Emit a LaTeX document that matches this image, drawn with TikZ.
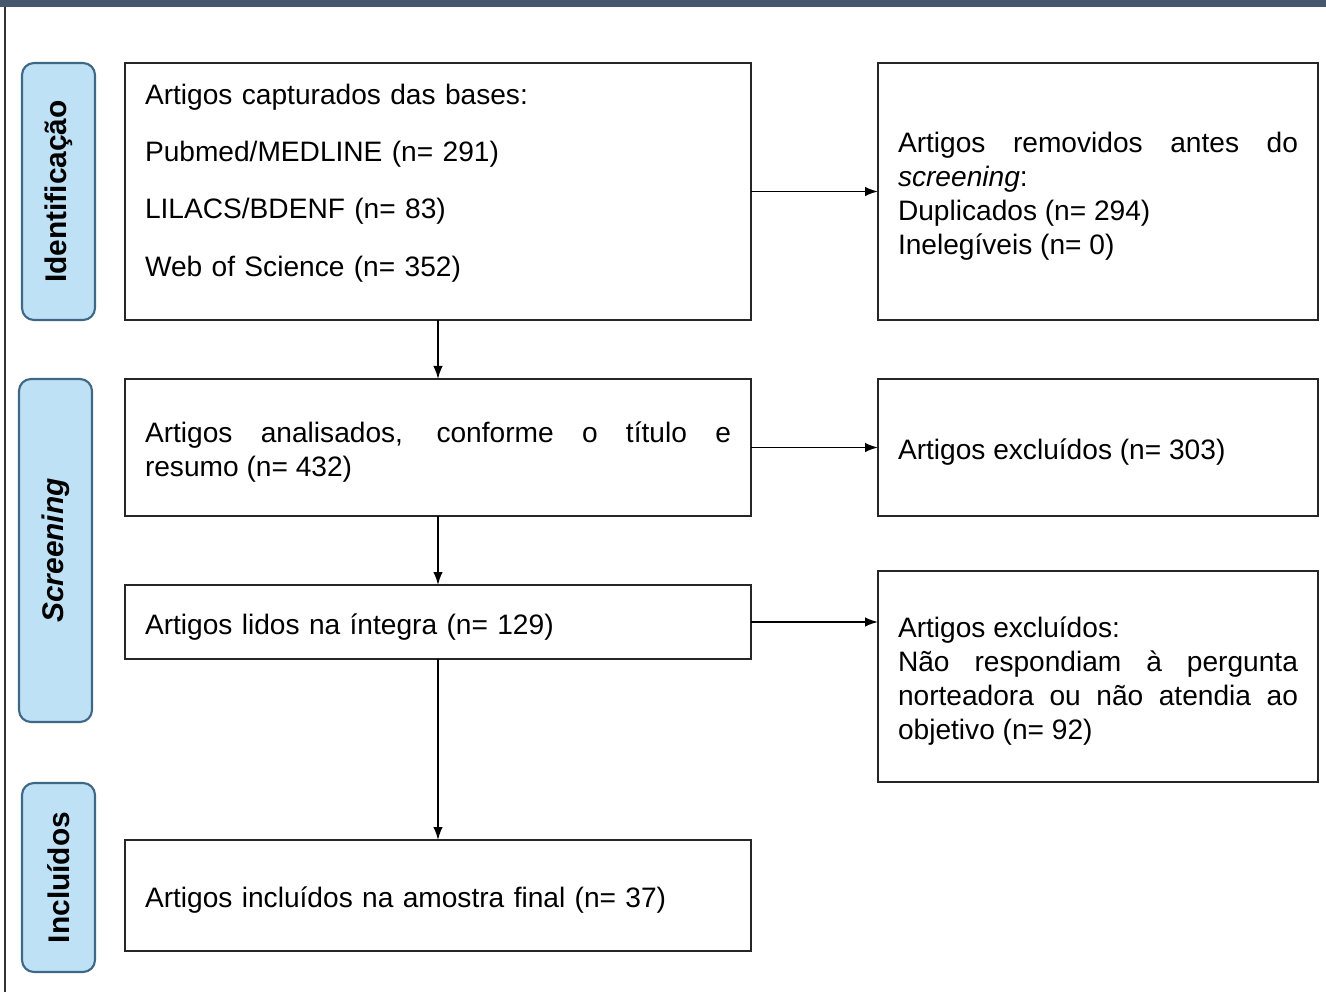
\documentclass[tikz,border=0pt]{standalone}
\usepackage{graphicx}
\usepackage{fontspec}
\setmainfont{Liberation Sans}
\usepackage{tikz}
\usetikzlibrary{positioning,arrows.meta}
\hyphenpenalty=10000
\exhyphenpenalty=10000
\definecolor{phasefill}{RGB}{190,225,245}
\definecolor{phaseline}{RGB}{62,104,134}
\definecolor{topbar}{RGB}{70,86,108}

\begin{document}
\begin{tikzpicture}[
    font=\fontsize{16}{19.3}\selectfont,
    stage/.style={rectangle, draw=black!85, line width=1.1pt, inner xsep=0.4cm, inner ysep=0pt, outer sep=0pt},
    leftbox/.style={stage, text width=11.72cm, minimum width=12.52cm},
    rightbox/.style={stage, text width=8cm, minimum width=8.8cm, align=justify},
    lowered/.style={execute at begin node={\rule{0pt}{0.6cm}}},
    phase/.style={rectangle, rounded corners=0.24cm, draw=phaseline, line width=1.2pt, fill=phasefill, minimum width=1.46cm, outer sep=0pt, font=\fontsize{17}{20}\selectfont\bfseries},
    arrow/.style={line width=0.9pt, -{Latex[length=2.6mm,width=1.9mm]}}
]

% Frame
\useasboundingbox (0,0) rectangle (26.52,-19.84);
\fill[topbar] (0,0) rectangle (26.52,-0.14);
\draw[black!80, line width=0.8pt] (0.1,-0.14) -- (0.1,-19.84);

% Main column
\node[leftbox, align=left, minimum height=5.14cm, anchor=north west] (capt) at (2.5,-1.26)
    {Artigos capturados das bases:\\[0.47cm] Pubmed/MEDLINE (n= 291)\\[0.47cm] LILACS/BDENF (n= 83)\\[0.47cm] Web of Science (n= 352)\rule[-0.46cm]{0pt}{0pt}};
\node[leftbox, lowered, align=justify, minimum height=2.74cm, below=1.18cm of capt] (analis)
    {Artigos analisados, conforme o título e\linebreak resumo (n= 432)};
\node[leftbox, lowered, align=left, minimum height=1.48cm, below=1.38cm of analis] (lidos) {Artigos lidos na íntegra (n= 129)};
\node[leftbox, lowered, align=left, minimum height=2.22cm, below=3.62cm of lidos] (incl) {Artigos incluídos na amostra final (n= 37)};

% Excluded records
\node[rightbox, lowered, minimum height=5.14cm, right=2.54cm of capt] (remov)
    {Artigos removidos antes do\linebreak \emph{screening}:\\ Duplicados (n= 294)\\ Inelegíveis (n= 0)};
\node[rightbox, lowered, minimum height=2.74cm, right=2.54cm of analis] (excl1) {Artigos excluídos (n= 303)};
\node[rightbox, lowered, minimum height=4.22cm, right=2.54cm of lidos, yshift=-1.09cm] (excl2)
    {Artigos excluídos:\\ Não respondiam à pergunta\linebreak norteadora ou não atendia ao\linebreak objetivo (n= 92)};

% Phases
\node[phase, minimum height=5.14cm, left=0.6cm of capt] (ident) {\rotatebox{90}{Identificação}};
\node[phase, minimum height=6.86cm, anchor=north east] (scr) at ([xshift=-0.66cm]analis.north west) {\rotatebox{90}{\itshape Screening}};
\node[phase, minimum height=3.78cm, anchor=north east] (incph) at ([xshift=-0.6cm, yshift=1.14cm]incl.north west) {\rotatebox{90}{Incluídos}};

% Connections
\draw[arrow] (capt) -- (analis);
\draw[arrow] (analis) -- (lidos);
\draw[arrow] (lidos) -- (incl);

\draw[arrow] (capt) -- (remov);
\draw[arrow] (analis) -- (excl1);
\draw[arrow] (lidos.east) -- (lidos.east -| excl2.west);

\end{tikzpicture}
\end{document}
